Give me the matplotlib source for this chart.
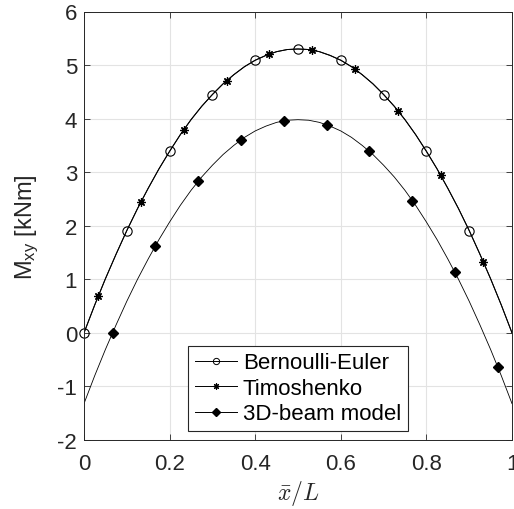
import numpy as np
import matplotlib
matplotlib.use("Agg")
import matplotlib.pyplot as plt
from matplotlib.lines import Line2D

plt.rcParams['font.family'] = ['Liberation Sans', 'DejaVu Sans']
plt.rcParams['mathtext.fontset'] = 'custom'
plt.rcParams['mathtext.rm'] = 'Liberation Sans'
plt.rcParams['mathtext.it'] = 'Liberation Sans:italic'
plt.rcParams['axes.unicode_minus'] = False

# curve values, every 0.025 of x/L
x_curve = [0.000, 0.025, 0.050, 0.075, 0.100, 0.125, 0.150, 0.175, 0.200, 0.225,
           0.250, 0.275, 0.300, 0.325, 0.350, 0.375, 0.400, 0.425, 0.450, 0.475,
           0.500, 0.525, 0.550, 0.575, 0.600, 0.625, 0.650, 0.675, 0.700, 0.725,
           0.750, 0.775, 0.800, 0.825, 0.850, 0.875, 0.900, 0.925, 0.950, 0.975, 1.000]
m_bernoulli = [0.00, 0.52, 1.01, 1.47, 1.91, 2.32, 2.70, 3.06, 3.39, 3.70,
               3.98, 4.23, 4.45, 4.65, 4.82, 4.97, 5.09, 5.18, 5.25, 5.29,
               5.30, 5.29, 5.25, 5.18, 5.09, 4.97, 4.82, 4.65, 4.45, 4.23,
               3.98, 3.70, 3.39, 3.06, 2.70, 2.32, 1.91, 1.47, 1.01, 0.52, 0.00]
m_timoshenko = [0.00, 0.52, 1.01, 1.47, 1.91, 2.32, 2.70, 3.06, 3.39, 3.70,
                3.98, 4.23, 4.45, 4.65, 4.82, 4.97, 5.09, 5.18, 5.25, 5.29,
                5.30, 5.29, 5.25, 5.18, 5.09, 4.97, 4.82, 4.65, 4.45, 4.23,
                3.98, 3.70, 3.39, 3.06, 2.70, 2.32, 1.91, 1.47, 1.01, 0.52, 0.00]
m_3d = [-1.32, -0.80, -0.31, 0.15, 0.59, 1.00, 1.38, 1.74, 2.07, 2.38,
        2.66, 2.91, 3.13, 3.33, 3.50, 3.65, 3.77, 3.86, 3.93, 3.97,
        3.98, 3.97, 3.93, 3.86, 3.77, 3.65, 3.50, 3.33, 3.13, 2.91,
        2.66, 2.38, 2.07, 1.74, 1.38, 1.00, 0.59, 0.15, -0.31, -0.80, -1.32]

# marker points
x_be_mk = [0.0, 0.1, 0.2, 0.3, 0.4, 0.5, 0.6, 0.7, 0.8, 0.9]
y_be_mk = [0.00, 1.91, 3.39, 4.45, 5.09, 5.30, 5.09, 4.45, 3.39, 1.91]
x_ti_mk = [0.033, 0.133, 0.233, 0.333, 0.433, 0.533, 0.633, 0.733, 0.833, 0.933]
y_ti_mk = [0.68, 2.45, 3.79, 4.71, 5.20, 5.28, 4.93, 4.15, 2.94, 1.32]
x_3d_mk = [0.067, 0.167, 0.267, 0.367, 0.467, 0.567, 0.667, 0.767, 0.867, 0.967]
y_3d_mk = [0.00, 1.62, 2.83, 3.60, 3.95, 3.88, 3.39, 2.47, 1.13, -0.64]

labels = ['Bernoulli-Euler', 'Timoshenko', '3D-beam model']

fig = plt.figure(figsize=(5.14, 5.10), dpi=100)
ax = fig.add_axes([84 / 514, 1 - 441 / 510, 428 / 514, 428.5 / 510])

ax.plot(x_curve, m_bernoulli, color='k', lw=0.7)
ax.plot(x_curve, m_timoshenko, color='k', lw=0.7)
ax.plot(x_curve, m_3d, color='k', lw=0.6)

ax.plot(x_be_mk, y_be_mk, ls='none', marker='o', ms=6.7, mfc='none', mec='k', mew=0.8, clip_on=False)
ax.plot(x_ti_mk, y_ti_mk, ls='none', marker=(8, 2, 0), ms=6, mec='k', mew=0.9)
ax.plot(x_3d_mk, y_3d_mk, ls='none', marker='D', ms=5.5, mfc='k', mec='k')

handles = [
    Line2D([], [], color='k', lw=0.7, marker='o', ms=4.5, mfc='none', mec='k', mew=0.7),
    Line2D([], [], color='k', lw=0.7, marker=(8, 2, 0), ms=4.5, mec='k', mew=0.8),
    Line2D([], [], color='k', lw=0.7, marker='D', ms=4.5, mfc='k', mec='k'),
]
leg = ax.legend(handles, labels, loc='lower center', bbox_to_anchor=(0.50, 0.021),
                fontsize=16, handlelength=1.9, handletextpad=0.25, borderpad=0.3,
                labelspacing=0.2, borderaxespad=0, fancybox=False, framealpha=1,
                edgecolor='#262626')
leg.get_frame().set_linewidth(0.8)

ax.set_xlim(0, 1)
ax.set_ylim(-2, 6)
ax.set_xticks([0, 0.2, 0.4, 0.6, 0.8, 1])
ax.set_xticklabels(['0', '0.2', '0.4', '0.6', '0.8', '1'])
ax.set_yticks(range(-2, 7))
ax.grid(True, color='#e3e3e3', lw=0.8)
ax.set_axisbelow(True)
ax.tick_params(direction='in', top=True, right=True, labelsize=16, colors='#262626',
               length=4, width=0.6, pad=5)
ax.tick_params(axis='x', pad=9)
for s in ax.spines.values():
    s.set_color('#262626')
    s.set_linewidth(0.7)

ax.set_ylabel(r'M$_{\rm xy}$ [kNm]', fontsize=17, color='#262626', labelpad=12)
ax.set_xlabel(r'$\bar{x}/L$', fontsize=17, math_fontfamily='cm', color='#262626', labelpad=3)

fig.savefig('out.png', dpi=100)
